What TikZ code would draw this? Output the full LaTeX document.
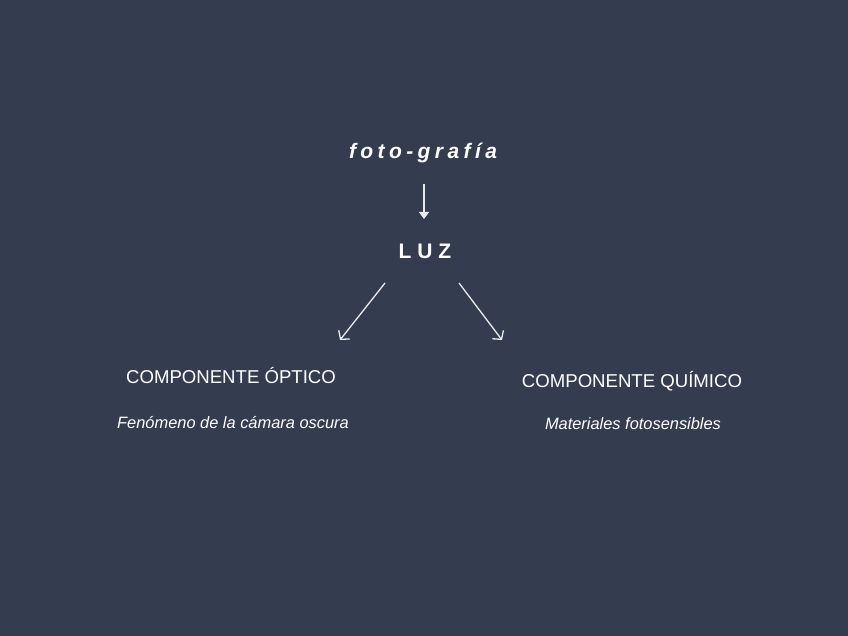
\documentclass[tikz,border=0pt]{standalone}
\usepackage{fontspec}
\setmainfont{Liberation Sans}
\newfontfamily\widefont[LetterSpace=28]{Liberation Sans}
\newfontfamily\slantfont[LetterSpace=21]{Liberation Sans}
\usetikzlibrary{arrows.meta}
\definecolor{slate}{RGB}{52,61,79}
\definecolor{chalk}{RGB}{232,234,238}
\begin{document}
\begin{tikzpicture}[
  x=1pt, y=-1pt,
  heading/.style={text=white, font=\widefont\fontsize{21}{25}\selectfont\bfseries},
  branch/.style={text=white, font=\fontsize{18.6}{22}\selectfont},
  note/.style={text=white, font=\fontsize{16.4}{20}\selectfont\itshape},
  link/.style={draw=chalk, line width=1.3pt}
]
\fill[slate] (0,0) rectangle (848,636);
\node[heading, font=\slantfont\fontsize{21}{25}\selectfont\bfseries\itshape] (foto) at (423,153) {foto-grafía};
\node[heading] (luz) at (425,251) {LUZ};
\node[branch] (optico) at (231,376) {COMPONENTE ÓPTICO};
\node[note] (camara) at (233,423) {Fenómeno de la cámara oscura};
\node[branch] (quimico) at (632,381) {COMPONENTE QUÍMICO};
\node[note] (sensible) at (633,424) {Materiales fotosensibles};
% free ends of the connectors
\coordinate (fotoout) at (424,184);
\coordinate (luzin) at (424,219);
\coordinate (luzleft) at (385,283);
\coordinate (opticoin) at (340,340);
\coordinate (luzright) at (459,283);
\coordinate (quimicoin) at (502,340);
\draw[link, -{Triangle[width=10pt,length=7pt]}] (fotoout) -- (luzin);
\draw[link, -{Straight Barb[length=6pt,width=14pt]}] (luzleft) -- (opticoin);
\draw[link, -{Straight Barb[length=6pt,width=14pt]}] (luzright) -- (quimicoin);
\end{tikzpicture}
\end{document}
